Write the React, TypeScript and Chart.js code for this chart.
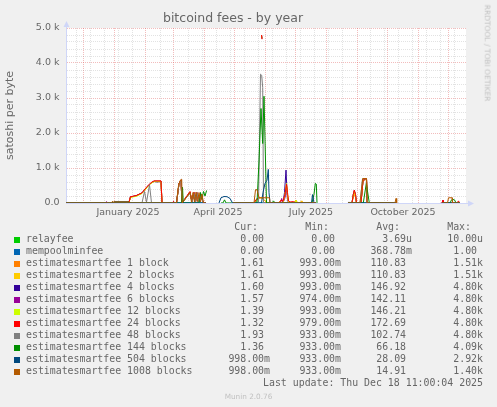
import React, { useEffect, useRef } from 'react';
import { Chart, registerables } from 'chart.js';

Chart.register(...registerables);

type Pt = [number, number | null];

// ---- data (x = day index, day 0 = 14 Nov 2024, 400 days shown) ----
const seriesNames = [
  'relayfee',
  'mempoolminfee',
  'estimatesmartfee 1 block',
  'estimatesmartfee 2 blocks',
  'estimatesmartfee 4 blocks',
  'estimatesmartfee 6 blocks',
  'estimatesmartfee 12 blocks',
  'estimatesmartfee 24 blocks',
  'estimatesmartfee 48 blocks',
  'estimatesmartfee 144 blocks',
  'estimatesmartfee 504 blocks',
  'estimatesmartfee 1008 blocks',
];
const seriesColors = [
  '#00CC00', '#0066B3', '#FF8000', '#FFCC00', '#330099', '#990099',
  '#CCFF00', '#FF0000', '#808080', '#008F00', '#00487D', '#B35A00',
];
const curValues = ['0.00 ', '0.00 ', '1.61 ', '1.61 ', '1.60 ', '1.57 ', '1.39 ', '1.32 ', '1.93 ', '1.36 ', '998.00m', '998.00m'];
const minValues = ['0.00 ', '0.00 ', '993.00m', '993.00m', '993.00m', '974.00m', '993.00m', '979.00m', '933.00m', '933.00m', '933.00m', '933.00m'];
const avgValues = ['3.69u', '368.78m', '110.83 ', '110.83 ', '146.92 ', '142.11 ', '146.21 ', '172.69 ', '102.74 ', '66.18 ', '28.09 ', '14.91 '];
const maxValues = ['10.00u', '1.00 ', '1.51k', '1.51k', '4.80k', '4.80k', '4.80k', '4.80k', '4.80k', '4.09k', '2.92k', '1.40k'];

const relayfeePoints: Pt[] = [[0, 0], [140, 0], [141, null], [167, 0], [250, 0], [251, null], [282, 0], [330, 0], [331, null], [376, 0], [394, 0]];
const mempoolPoints: Pt[] = [[0, 0], [140, 0], [141, null], [167, 0], [250, 0], [251, null], [282, 0], [330, 0], [331, null], [376, 0], [394, 0]];

const fee1Block: Pt[] = [[0, 1], [40, 1], [41, 20], [42, 1], [47, 1], [48, 22], [63, 22], [64.5, 170], [70, 200], [76, 280], [81, 450], [85, 570], [88, 620], [95, 620], [96, 1], [107, 1], [108, 30], [109, 1], [110.5, 1], [113, 550], [115, 640], [116, 1], [124, 300], [126, 30], [128, 290], [129.5, 30], [131, 290], [133, 40], [135, 250], [137, 20], [140, 1], [141, null], [167, 1], [189, 1], [191, 120], [193, 140], [195, 150], [197, 120], [199, 60], [201, 1], [213, 1], [215, 90], [217, 50], [219, 200], [220.5, 500], [222, 100], [223, 30], [225, 1], [228, 1], [230, 80], [231.5, 1], [234, 1], [235.7, 60], [237, 1], [250, 1], [251, null], [282, 1], [286, 1], [287.3, 200], [288.3, 260], [289.5, 160], [290.5, 1], [295, 1], [297, 640], [300.5, 680], [301.5, 1], [330, 1], [331, null], [376, 1], [394, 1]];

const fee4Block: Pt[] = [[0, 1], [47, 1], [48, 25], [63, 25], [64.5, 175], [70, 205], [76, 285], [81, 460], [85, 570], [88, 615], [91, 600], [94, 610], [95, 625], [96, 1], [110.5, 1], [113, 555], [115, 650], [116, 1], [124, 310], [126, 30], [128, 295], [129.5, 30], [131, 295], [133, 40], [135, 255], [137, 20], [140, 1], [141, null], [167, 1], [189, 1], [191, 120], [192.5, 140], [193.5, null], [195.5, 4800], [196, 4700], [196.5, null], [199, 1], [217, 1], [218.5, 300], [220, 940], [221.3, 150], [222.5, 1], [250, 1], [251, null], [282, 1], [283, 30], [284, 1], [286, 1], [287.3, 240], [288.3, 350], [289.5, 240], [290.5, 1], [295, 1], [297, 650], [300.5, 690], [301.5, 1], [330, 1], [331, null], [376, 1], [377, 70], [378, 1], [394, 1]];

const fee6Block: Pt[] = [[0, 1], [39.5, 1], [40.5, 40], [41.5, 1], [47, 1], [48, 25], [63, 25], [64.5, 175], [70, 205], [76, 285], [81, 460], [85, 575], [88, 625], [95, 625], [96, 1], [106, 1], [107.5, 45], [109, 1], [110.5, 1], [113, 555], [115, 650], [116, 1], [124, 310], [126, 30], [128, 295], [129.5, 30], [131, 295], [133, 40], [135, 255], [137, 20], [140, 1], [141, null], [167, 1], [189, 1], [191, 120], [192.5, 140], [193.5, null], [195.5, 4800], [196, 4700], [196.5, null], [199, 1], [214.5, 1], [215.7, 130], [217, 1], [219, 150], [220.5, 450], [222, 60], [223, 1], [250, 1], [251, null], [282, 1], [286, 1], [287.3, 240], [288.3, 350], [289.5, 240], [290.5, 1], [295, 1], [297, 650], [300.5, 690], [301.5, 1], [330, 1], [331, null], [376, 1], [377, 75], [378, 1], [394, 1]];

const fee12Block: Pt[] = [[0, 1], [47, 1], [48, 20], [63, 20], [64.5, 160], [70, 190], [76, 270], [81, 440], [85, 560], [88, 610], [95, 610], [96, 1], [110.5, 1], [113, 550], [115, 645], [116, 1], [124, 300], [126, 30], [128, 290], [129.5, 30], [131, 290], [133, 40], [135, 250], [137, 20], [140, 1], [141, null], [167, 1], [189, 1], [191, 120], [192.5, 140], [193.5, null], [195.5, 4800], [196, 4700], [196.5, null], [199, 1], [217, 1], [219, 250], [220.5, 560], [222, 80], [223, 1], [229, 1], [230, 70], [231, 1], [250, 1], [251, null], [282, 1], [286, 1], [287.3, 230], [288.3, 340], [289.5, 230], [290.5, 1], [295, 1], [297, 650], [300.5, 690], [301.5, 1], [330, 1], [331, null], [376, 1], [394, 1]];

const fee24Block: Pt[] = [[0, 1], [40, 1], [41, 25], [42, 1], [47, 1], [48, 25], [63, 25], [64.5, 180], [70, 210], [76, 290], [81, 470], [85, 580], [88, 630], [95, 630], [96, 1], [106, 1], [107.5, 40], [109, 1], [110.5, 1], [113, 560], [115, 660], [116, 1], [124, 330], [126, 30], [128, 300], [129.5, 30], [131, 290], [133, 40], [135, 250], [137, 20], [140, 1], [141, null], [167, 1], [188, 1], [190, 100], [192, 130], [193.5, null], [195.5, 4800], [196, 4680], [196.5, null], [199, 1], [213, 1], [215, 80], [217, 50], [219, 250], [220.5, 540], [221.5, 300], [222.5, 60], [224, 30], [227, 40], [229, 20], [231, 1], [250, 1], [251, null], [282, 1], [286, 1], [287.3, 250], [288.3, 370], [289.5, 250], [290.5, 1], [295, 1], [297, 650], [300.5, 700], [301, 1], [330, 1], [331, null], [376, 1], [377, 85], [378, 1], [391, 1], [392.5, 60], [393.5, 1], [394, 1]];

const fee48Block: Pt[] = [[0, 1], [76, 1], [78.5, 330], [80.5, 20], [83.5, 520], [85.5, 1], [110.5, 1], [113, 540], [115, 640], [116, 1], [124, 280], [126, 20], [128, 270], [129.5, 20], [131, 280], [133, 30], [135, 230], [137, 10], [140, 1], [141, null], [167, 1], [192.5, 1], [194.5, 3680], [195.7, 3650], [196.7, 3300], [197.5, 1], [243, 1], [243.2, null], [243.5, 250], [244.5, 250], [244.8, null], [245, 1], [250, 1], [251, null], [282, 1], [294, 1], [296.5, 690], [300.3, 690], [301, 1], [330, 1], [331, null], [376, 1], [394, 1]];

const fee144Block: Pt[] = [[0, 1], [47, 1], [48, 25], [63, 25], [64, 1], [115.5, 1], [116.5, 450], [117.3, 1], [133, 1], [134.5, 300], [136, 110], [137.5, 330], [139, 200], [140.5, 350], [141, 350], [141.3, null], [155, 1], [157, 1], [158.5, 90], [160, 1], [166, 1], [191, 1], [193, 1200], [195, 2700], [196.7, 1700], [198, 3050], [200.5, 1], [206, 1], [207.5, 60], [209, 1], [246, 1], [248, 250], [249.3, 560], [250.3, 540], [251, 1], [251.2, null], [282, 1], [297.3, 1], [300.3, 560], [303.3, 1], [330, 1], [331, null], [376, 1], [384, 1], [385.5, 90], [387, 100], [388.5, 90], [390, 1], [394, 1]];

const fee504Block: Pt[] = [[0, 1], [140, 1], [141, null], [153, 1], [155, 150], [158, 185], [161, 180], [164, 130], [166.5, 1], [195.5, 1], [197, 300], [199, 560], [201, 650], [202.3, 960], [203, 300], [204, 1], [245.5, 1], [246.5, 240], [248, 1], [250, 1], [251, null], [282, 1], [330, 1], [331, null], [376, 1], [394, 1]];

const fee1008Block: Pt[] = [[0, 1], [45.5, 1], [46.7, 55], [48, 1], [110.5, 1], [112.5, 500], [114.5, 660], [115.7, 680], [116.2, 1], [124, 300], [125.5, 20], [127, 300], [128.5, 25], [130, 310], [131.5, 40], [133, 300], [134.5, 30], [136, 250], [137.5, 1], [140, 1], [141, null], [167, 1], [188, 1], [189.5, 380], [191, 380], [193, 150], [203.5, 150], [204, 1], [250, 1], [251, null], [282, 1], [294, 1], [296.7, 700], [300.5, 700], [301, 1], [329, 1], [330, 130], [330.7, 1], [331, null], [376, 1], [381.5, 1], [382.5, 150], [386, 150], [386.5, 1], [394, 1]];

// 1 block and 2 blocks report identical values
const seriesPoints: Pt[][] = [
  relayfeePoints, mempoolPoints, fee1Block, fee1Block, fee4Block, fee6Block,
  fee12Block, fee24Block, fee48Block, fee144Block, fee504Block, fee1008Block,
];

// ---- axes ----
const monthStartDays = [17, 48, 79, 107, 138, 168, 199, 229, 260, 291, 321, 352, 382];
const minorGridDays = [10, 24, 38, 52, 66, 94, 122, 136, 150, 164, 178, 192, 206, 220, 234, 248, 262, 276, 304, 318, 332, 346, 360, 374, 388];
const xLabelDays = [62, 152, 245, 337];
const xLabelTexts = ['January 2025', 'April 2025', 'July 2025', 'October 2025'];
const yGridValues = [0, 200, 400, 600, 800, 1000, 1200, 1400, 1600, 1800, 2000, 2200, 2400, 2600, 2800, 3000, 3200, 3400, 3600, 3800, 4000, 4200, 4400, 4600, 4800, 5000];
const yLabelValues = [0, 1000, 2000, 3000, 4000, 5000];
const yLabelTexts = ['0.0', '1.0 k', '2.0 k', '3.0 k', '4.0 k', '5.0 k'];

const AXIS = '#CFD6F8';
const MAJOR = 'rgba(222,79,79,0.38)';
const MINOR = 'rgba(150,150,150,0.28)';
const FONT_COLOR = '#666666';
const SANS = "'DejaVu Sans', sans-serif";
const MONO = "'DejaVu Sans Mono', monospace";

const plotDecor = {
  id: 'plotDecor',
  beforeDraw(chart: any) {
    const { ctx, chartArea } = chart;
    ctx.save();
    ctx.fillStyle = '#FFFFFF';
    ctx.fillRect(chartArea.left, chartArea.top, chartArea.right - chartArea.left, chartArea.bottom - chartArea.top);
    ctx.restore();
  },
  afterDraw(chart: any) {
    const { ctx, chartArea } = chart;
    const { left, right, top, bottom } = chartArea;
    ctx.save();
    ctx.strokeStyle = AXIS;
    ctx.fillStyle = AXIS;
    ctx.lineWidth = 1;
    const ax = left + 0.5;
    const ay = bottom + 0.5;
    ctx.beginPath();
    ctx.moveTo(ax, top);
    ctx.lineTo(ax, top - 2);
    ctx.moveTo(right, ay);
    ctx.lineTo(right + 2, ay);
    ctx.stroke();
    ctx.beginPath();
    ctx.moveTo(ax - 3, top - 1);
    ctx.lineTo(ax + 3, top - 1);
    ctx.lineTo(ax, top - 7);
    ctx.closePath();
    ctx.fill();
    ctx.beginPath();
    ctx.moveTo(right + 2, ay - 3);
    ctx.lineTo(right + 2, ay + 3);
    ctx.lineTo(right + 8, ay);
    ctx.closePath();
    ctx.fill();
    ctx.restore();
  },
};

export default function App() {
  const ref = useRef<HTMLCanvasElement>(null);

  useEffect(() => {
    document.body.style.margin = '0';
    const canvas = ref.current;
    if (!canvas) return;
    const xTicks = [...monthStartDays, ...minorGridDays, ...xLabelDays].sort((a, b) => a - b);
    const chart = new Chart(canvas, {
      type: 'line',
      data: {
        datasets: seriesPoints.map((pts, i) => ({
          label: seriesNames[i],
          data: pts.map(([x, y]) => ({ x, y })),
          borderColor: seriesColors[i],
          backgroundColor: seriesColors[i],
          borderWidth: 1,
          pointRadius: 0,
          tension: 0,
          fill: false,
          spanGaps: false,
          order: -i,
        })),
      },
      options: {
        animation: false,
        responsive: false,
        maintainAspectRatio: false,
        events: [],
        layout: { padding: { left: 0, right: 31, top: 0, bottom: 0 } },
        plugins: {
          legend: { display: false },
          tooltip: { enabled: false },
          title: {
            display: true,
            text: 'bitcoind fees - by year',
            color: FONT_COLOR,
            font: { family: SANS, size: 12.5, weight: 'normal', lineHeight: 1.2 },
            padding: { top: 11, bottom: 2 },
          },
        },
        scales: {
          x: {
            type: 'linear',
            min: 0,
            max: 400,
            afterFit: (s: any) => { s.height = 22; },
            afterBuildTicks: (s: any) => { s.ticks = xTicks.map((v) => ({ value: v })); },
            grid: {
              drawTicks: false,
              lineWidth: 1,
              color: (ctx: any) => {
                const v = ctx.tick ? ctx.tick.value : -1;
                if (monthStartDays.includes(v)) return MAJOR;
                if (minorGridDays.includes(v)) return MINOR;
                return 'rgba(0,0,0,0)';
              },
            },
            border: { color: AXIS, width: 1, dash: [1, 1] },
            ticks: {
              autoSkip: false,
              maxRotation: 0,
              minRotation: 0,
              padding: 3.5,
              color: FONT_COLOR,
              font: { family: SANS, size: 9.5 },
              callback: (v: any) => {
                const k = xLabelDays.indexOf(Number(v));
                return k >= 0 ? xLabelTexts[k] : '';
              },
            },
          },
          y: {
            type: 'linear',
            min: 0,
            max: 5000,
            afterFit: (s: any) => { s.width = 66; },
            afterBuildTicks: (s: any) => { s.ticks = yGridValues.map((v) => ({ value: v })); },
            grid: {
              drawTicks: false,
              lineWidth: 1,
              color: (ctx: any) => {
                const v = ctx.tick ? ctx.tick.value : -1;
                if (v === 0) return 'rgba(0,0,0,0)';
                return v % 1000 === 0 ? MAJOR : MINOR;
              },
            },
            border: { color: AXIS, width: 1, dash: [1, 1] },
            ticks: {
              autoSkip: false,
              padding: 6.5,
              color: FONT_COLOR,
              font: { family: SANS, size: 9.5 },
              callback: (v: any) => {
                const k = yLabelValues.indexOf(Number(v));
                return k >= 0 ? yLabelTexts[k] : '';
              },
            },
            title: {
              display: true,
              text: 'satoshi per byte',
              color: FONT_COLOR,
              font: { family: SANS, size: 11, lineHeight: 1.2 },
              padding: { top: 4, bottom: 0 },
            },
          },
        },
      } as any,
      plugins: [plotDecor],
    });
    return () => chart.destroy();
  }, []);

  const rowCenter = (i: number) => 239.7 + 12 * i;
  const colEdges = [270, 341, 412, 483];
  const headers = ['Cur:', 'Min:', 'Avg:', 'Max:'];
  const textStyle: React.CSSProperties = {
    position: 'absolute',
    fontFamily: MONO,
    fontSize: 9.9,
    lineHeight: '12px',
    height: 12,
    whiteSpace: 'pre',
    color: FONT_COLOR,
  };

  return (
    <div style={{ position: 'relative', width: 497, height: 407, background: '#F0F0F0', overflow: 'hidden' }}>
      <canvas ref={ref} width={497} height={225} style={{ position: 'absolute', left: 0, top: 0, width: 497, height: 225 }} />
      <div
        style={{
          position: 'absolute', left: 487.3, top: 53.4, transform: 'translate(-50%, -50%) rotate(90deg)',
          fontFamily: SANS, fontSize: 7.5, lineHeight: 1, whiteSpace: 'nowrap', color: 'rgba(102,102,102,0.35)',
        }}
      >
        RRDTOOL / TOBI OETIKER
      </div>
      {headers.map((h, c) => (
        <div key={h} style={{ ...textStyle, top: 227.7 - 6.4, right: 497 - (colEdges[c] - 12), textAlign: 'right' }}>{h}</div>
      ))}
      {seriesNames.map((name, i) => {
        const cy = rowCenter(i);
        const vals = [curValues[i], minValues[i], avgValues[i], maxValues[i]];
        return (
          <React.Fragment key={name}>
            <div style={{ position: 'absolute', left: 14, top: cy - 3, width: 6, height: 6, background: seriesColors[i] }} />
            <div style={{ ...textStyle, left: 26, top: cy - 6.4 }}>{name}</div>
            {vals.map((v, c) => (
              <div key={c} style={{ ...textStyle, top: cy - 6.4, right: 497 - colEdges[c], textAlign: 'right' }}>{v}</div>
            ))}
          </React.Fragment>
        );
      })}
      <div style={{ ...textStyle, top: 383.3 - 6.4, right: 497 - 483, textAlign: 'right' }}>Last update: Thu Dec 18 11:00:04 2025</div>
      <div
        style={{
          position: 'absolute', left: 0, width: 497, top: 391.9, textAlign: 'center', fontFamily: SANS,
          fontSize: 7.3, lineHeight: '10px', color: 'rgba(102,102,102,0.35)',
        }}
      >
        Munin 2.0.76
      </div>
    </div>
  );
}
